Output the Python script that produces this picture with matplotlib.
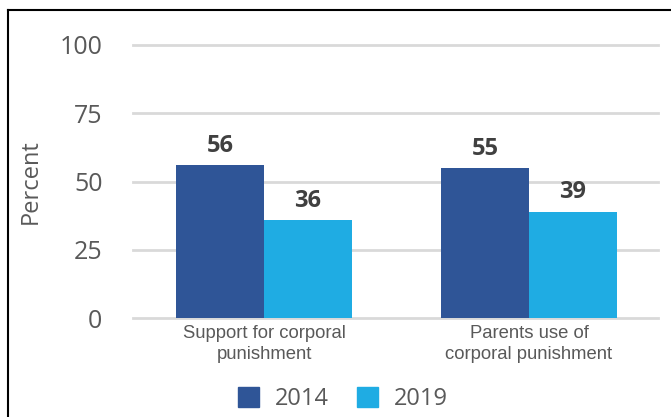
import numpy as np
import matplotlib
matplotlib.use('Agg')
import matplotlib.pyplot as plt
from matplotlib.lines import Line2D
from matplotlib.patches import Patch

categories = ['Support for corporal\npunishment', 'Parents use of\ncorporal punishment']
years = ['2014', '2019']
values2014 = [56, 55]
values2019 = [36, 39]
yTicks = [0, 25, 50, 75, 100]

colors = ['#2F5597', '#1FACE3']

fig = plt.figure(figsize=(6.71, 4.17), dpi=100)
ax = fig.add_axes([133/671, 1 - 318/417, 525/671, 273/417])

x = np.arange(len(categories))
width = 88/265
bars1 = ax.bar(x - width/2, values2014, width, color=colors[0], zorder=3)
bars2 = ax.bar(x + width/2, values2019, width, color=colors[1], zorder=3)

for bars in (bars1, bars2):
	for b in bars:
		ax.text(b.get_x() + b.get_width()/2, b.get_height() + 4.8, str(int(b.get_height())),
			ha='center', va='baseline', fontsize=17, fontweight='bold', color='#404040',
			family='Open Sans')

ax.set_xlim(-(264 - 133)/265, (658 - 264)/265)
ax.set_ylim(0, 100)
ax.set_yticks(yTicks)
ax.set_yticklabels([str(t) for t in yTicks], family='Open Sans', fontsize=18, color='#595959')
ax.set_xticks(x)
ax.set_xticklabels(categories, family='Liberation Sans', fontsize=13.3, color='#595959',
	linespacing=1.3)
ax.tick_params(axis='y', length=0, pad=22)
ax.tick_params(axis='x', length=0, pad=5)
ax.grid(axis='y', color='#D9D9D9', linewidth=2, zorder=0)
for line in ax.get_ygridlines():
	line.set_clip_on(False)
for s in ax.spines.values():
	s.set_visible(False)

ax.set_ylabel('Percent', family='Open Sans', fontsize=17, color='#595959')
ax.yaxis.set_label_coords(-(133 - 43)/525, 0.5)

handles = [Patch(color=c) for c in colors]
fig.legend(handles, years, loc='center', bbox_to_anchor=(343/671, 1 - 399/417), ncol=2,
	frameon=False, prop={'family': 'Open Sans', 'size': 17}, handlelength=0.875, handleheight=0.92,
	columnspacing=1.2, handletextpad=0.67, labelcolor='#595959')

# frame lines on the left and top
fig.add_artist(Line2D([8/671, 8/671], [0, 1 - 10/417], color='black', lw=1.5))
fig.add_artist(Line2D([8/671, 1], [1 - 10/417, 1 - 10/417], color='black', lw=1.5))

plt.savefig('out.png', dpi=100)
